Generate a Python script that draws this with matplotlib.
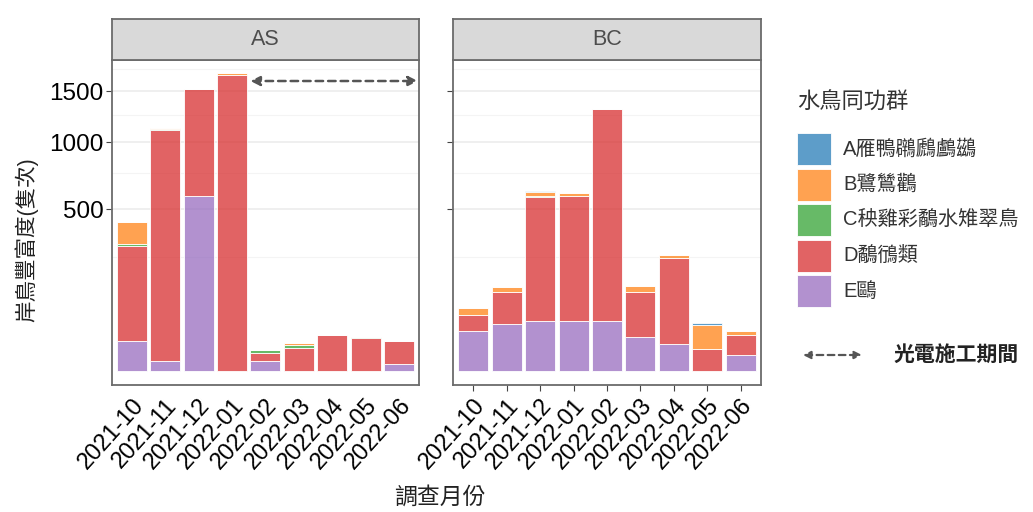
import matplotlib
matplotlib.use('Agg')
import matplotlib.pyplot as plt
import numpy as np
from matplotlib.patches import Rectangle, FancyArrowPatch
from matplotlib.colors import to_rgba

plt.rcParams['font.family'] = ['Liberation Sans', 'Noto Sans CJK TC', 'DejaVu Sans']

# ---------------- data ----------------
months = ['2021-10', '2021-11', '2021-12', '2022-01', '2022-02',
          '2022-03', '2022-04', '2022-05', '2022-06']
sites = ['AS', 'BC']
groups = ['A雁鴨鸊鷉鸕鷀', 'B鷺鷥鸛', 'C秧雞彩鷸水雉翠鳥', 'D鷸鴴類', 'E鷗']
colors = ['#1f77b4', '#ff7f0e', '#2ca02c', '#d62728', '#9467bd']

as_A = [0, 6, 0, 0, 0, 0, 0, 0, 0]
as_B = [118, 10, 0, 16, 0, 2, 1, 0, 0]
as_C = [8, 6, 0, 0, 2, 3, 0, 1, 0]
as_D = [283, 1109, 934, 1681, 4, 10, 24, 21, 16]
as_E = [17, 2, 585, 0, 2, 0, 0, 0, 1]

bc_A = [0, 0, 10, 0, 0, 0, 0, 3, 0]
bc_B = [15, 15, 23, 23, 0, 20, 14, 32, 6]
bc_C = [0, 0, 6, 0, 0, 0, 0, 0, 0]
bc_D = [29, 76, 534, 538, 1264, 96, 228, 9, 20]
bc_E = [31, 42, 47, 47, 47, 22, 14, 0, 5]

y_major = [500, 1000, 1500]
y_minor = [250, 750, 1250, 1750]

ylabel = '岸鳥豐富度(隻次)'
xlabel = '調查月份'
legend_title = '水鳥同功群'
construction_label = '光電施工期間'
construction_site = 'AS'
construction_start = '2022-01'   # arrow starts just after this month
construction_level = 1610

site_data = {
    'AS': [as_A, as_B, as_C, as_D, as_E],
    'BC': [bc_A, bc_B, bc_C, bc_D, bc_E],
}

# ---------------- figure ----------------
W, H = 1033, 512
fig = plt.figure(figsize=(W / 100, H / 100), dpi=100)

def fx(px):
    return px / W

def fy(py):
    return 1 - py / H

def fwd(v):
    v = np.asarray(v, dtype=float)
    return np.sign(v) * np.sqrt(np.abs(v))

def inv(u):
    u = np.asarray(u, dtype=float)
    return np.sign(u) * u ** 2

ALPHA = 0.72
border_col = '#6b6b6b'
panel_lefts = [111.7, 453.3]
panel_w = 307.3
panel_top, panel_bot = 60, 385
strip_top = 18.5

x = np.arange(len(months))
for si, site in enumerate(sites):
    left = panel_lefts[si]
    ax = fig.add_axes([fx(left), fy(panel_bot), panel_w / W, (panel_bot - panel_top) / H])
    ax.set_yscale('function', functions=(fwd, inv))
    data = site_data[site]
    bottom = np.zeros(len(months))
    # stack from E (bottom) to A (top)
    for gi in [4, 3, 2, 1, 0]:
        vals = np.array(data[gi], dtype=float)
        ax.bar(x, vals, bottom=bottom, width=0.9,
               facecolor=to_rgba(colors[gi], ALPHA), edgecolor='white',
               linewidth=0.6, zorder=3)
        bottom = bottom + vals
    ax.set_xlim(-0.6, len(months) - 0.4)
    ax.set_ylim(-3.9, 1852)
    ax.set_yticks(y_major)
    ax.set_yticks(y_minor, minor=True)
    ax.yaxis.set_minor_formatter(plt.NullFormatter())
    ax.grid(axis='y', which='major', color='#ebebeb', linewidth=1.1, zorder=0)
    ax.grid(axis='y', which='minor', color='#f4f4f4', linewidth=0.8, zorder=0)
    ax.set_xticks(x)
    ax.set_xticklabels(months, rotation=48, ha='right', rotation_mode='anchor',
                       fontsize=17)
    for sp in ax.spines.values():
        sp.set_color(border_col)
        sp.set_linewidth(1.3)
    ax.tick_params(axis='y', which='major', length=4, color='#444444',
                   labelsize=17.5, pad=2)
    ax.tick_params(axis='y', which='minor', length=0)
    if si == 0:
        ax.tick_params(axis='x', length=0, pad=7)
    else:
        ax.tick_params(axis='x', length=4, color='#444444', pad=3)
        ax.tick_params(axis='y', labelleft=False)
    if site == construction_site:
        xs = months.index(construction_start) + 0.55
        ax.annotate('', xy=(len(months) - 0.43, construction_level),
                    xytext=(xs, construction_level),
                    arrowprops=dict(arrowstyle='<|-|>', linestyle=(0, (3, 2)),
                                    color='#555555', lw=1.8,
                                    mutation_scale=14, shrinkA=0, shrinkB=0),
                    zorder=5)
    # strip
    sax = fig.add_axes([fx(left), fy(panel_top), panel_w / W, (panel_top - strip_top) / H])
    sax.set_facecolor('#d9d9d9')
    sax.set_xticks([])
    sax.set_yticks([])
    for sp in sax.spines.values():
        sp.set_color(border_col)
        sp.set_linewidth(1.3)
    sax.text(0.5, 0.5, site, ha='center', va='center', fontsize=15.5,
             color='#4d4d4d', transform=sax.transAxes)

# axis titles
fig.text(fx(26), fy(240), ylabel, rotation=90, ha='center', va='center',
         fontsize=15.5, color='#222222')
fig.text(fx(440), fy(497), xlabel, ha='center', va='center',
         fontsize=16.5, color='#222222')

# legend
fig.text(fx(797), fy(103), legend_title, ha='left', va='center',
         fontsize=16, color='#333333')
for i, (lab, col) in enumerate(zip(groups, colors)):
    ytop = 133 + i * 35.5
    fig.add_artist(Rectangle((fx(797), fy(ytop + 32)), 34 / W, 32 / H,
                             transform=fig.transFigure,
                             facecolor=to_rgba(col, ALPHA), edgecolor='white',
                             linewidth=0.6))
    fig.text(fx(843), fy(ytop + 16), lab, ha='left', va='center',
             fontsize=14.5, color='#333333')

fig.add_artist(FancyArrowPatch((fx(803), fy(355)), (fx(862), fy(355)),
                               transform=fig.transFigure,
                               arrowstyle='<|-|>', linestyle=(0, (3, 2)),
                               color='#555555', lw=1.6, mutation_scale=11,
                               shrinkA=0, shrinkB=0))
fig.text(fx(893), fy(355), construction_label, ha='left', va='center',
         fontsize=15, color='#222222', fontweight='bold')

fig.savefig('out.png', dpi=100)
